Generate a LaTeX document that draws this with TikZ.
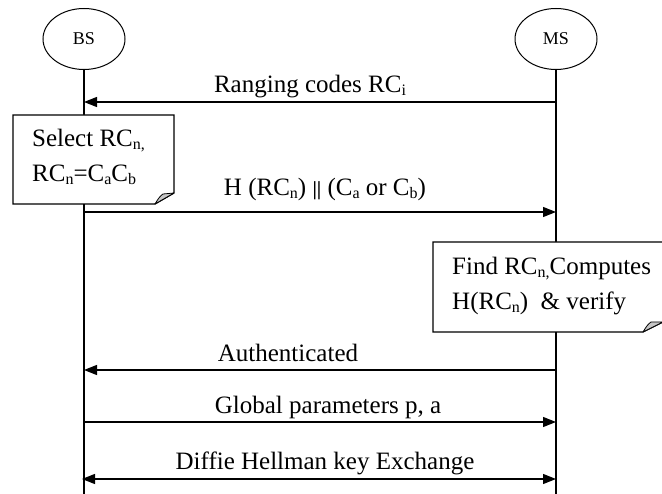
\documentclass[tikz,border=0pt]{standalone}
\usepackage{fontspec}
\setmainfont{Liberation Serif}
\usetikzlibrary{arrows.meta,shapes.geometric}
% lowered, smaller text for indices such as RC_n
\newcommand\sbx[1]{\raisebox{-3pt}{\fontsize{16}{16}\selectfont #1}}
\begin{document}
\begin{tikzpicture}[x=1pt,y=-1pt,
  actor/.style={draw, ellipse, line width=1pt, minimum width=82pt, minimum height=61pt,
    inner sep=0pt, font=\fontsize{18}{20}\selectfont},
  life/.style={line width=1.3pt},
  msg/.style={line width=1.3pt, -{Triangle[length=13pt,width=10pt]}},
  dmsg/.style={line width=1.3pt, {Triangle[length=13pt,width=10pt]}-{Triangle[length=13pt,width=10pt]}},
  lbl/.style={font=\fontsize{25}{30}\selectfont, inner sep=0pt, anchor=base},
  txt/.style={font=\fontsize{25}{30}\selectfont, inner sep=0pt, anchor=base west},
  notebox/.style={draw, fill=white, line width=1.3pt, line join=miter},
  flap/.style={draw, fill=gray!45, line width=0.8pt, line join=round}]
\useasboundingbox (0,0) rectangle (662,494);
\clip (0,0) rectangle (662,494);

% participants
\node[actor] (bs) at (84,39) {BS};
\node[actor] (ms) at (556,39) {MS};

% lifelines
\coordinate (bsEnd) at (84,494);
\coordinate (msEnd) at (556,494);
\draw[life] (bs.south) -- (bsEnd);
\draw[life] (ms.south) -- (msEnd);

% ranging codes
\coordinate (m1) at (556,102);
\coordinate (b1) at (84,102);
\draw[msg] (m1) -- (b1);
\node[lbl] (l1) at (310,93) {Ranging codes RC\sbx{i}};

% note: code selection at the BS
\draw[notebox] (13,115) -- (174,115) -- (174,193) -- (155,204) -- (13,204) -- cycle;
\draw[flap] (155,204) .. controls (158,199) and (160,196) .. (163,194) -- (174,193) -- cycle;
\node[txt] (s1) at (32,147) {Select RC\sbx{n,}};
\node[txt] (s2) at (32,182) {RC\sbx{n}=C\sbx{a}C\sbx{b}};

% hash of the selected code
\coordinate (b2) at (84,212);
\coordinate (m2) at (556,212);
\draw[msg] (b2) -- (m2);
\node[lbl] (l2) at (325,196) {H (RC\sbx{n}) {\fontsize{20}{20}\selectfont\textbf{||}} (C\sbx{a} or C\sbx{b})};

% note: verification at the MS
\draw[notebox] (433,242) -- (663,242) -- (663,322) -- (643,332) -- (433,332) -- cycle;
\draw[flap] (643,332) .. controls (646,327) and (648,324) .. (651,322) -- (663,322) -- cycle;
\node[txt] (v1) at (452,275) {Find RC\sbx{n,}Computes};
\node[txt] (v2) at (452,310) {H(RC\sbx{n})\ \ \& verify};

% authenticated
\coordinate (m3) at (556,370);
\coordinate (b3) at (84,370);
\draw[msg] (m3) -- (b3);
\node[lbl] (l3) at (288,362) {Authenticated};

% global parameters
\coordinate (b4) at (84,422);
\coordinate (m4) at (556,422);
\draw[msg] (b4) -- (m4);
\node[lbl] (l4) at (328,414) {Global parameters p, a};

% key exchange
\coordinate (b5) at (82,479);
\coordinate (m5) at (556,479);
\draw[dmsg] (b5) -- (m5);
\node[lbl] (l5) at (325,470) {Diffie Hellman key Exchange};
\end{tikzpicture}
\end{document}
